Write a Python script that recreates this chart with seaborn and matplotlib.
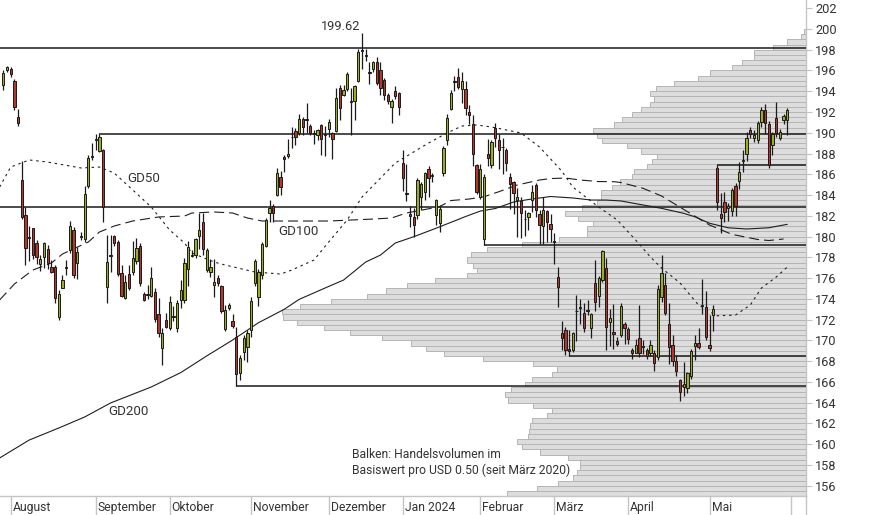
import numpy as np
import pandas as pd
import matplotlib
matplotlib.use("Agg")
import matplotlib.pyplot as plt
import matplotlib.transforms as mtransforms
import seaborn as sns

# ---------------- data ----------------
holidays = ["2023-09-04", "2023-11-23", "2023-12-25", "2024-01-01",
            "2024-01-15", "2024-02-19", "2024-03-29", "2024-05-27"]
first_day = "2023-07-28"
last_day = "2024-05-31"

opens = [194.6, 196.02, 196.14, 194.99, 191.52, 185.43, 182.08, 179.9, 180.8, 179.35,
         177.33, 178.0, 178.77, 177.1, 177.05, 172.28, 175.07, 177.0, 178.73, 180.63,
         177.42, 180.0, 179.74, 184.9, 187.7, 189.3, 188.24, 188.34, 175.19, 178.1,
         180.06, 179.45, 176.46, 174.05, 176.37, 176.56, 177.65, 179.12, 174.43, 174.4,
         174.3, 174.7, 172.5, 169.23, 171.96, 171.16, 172.3, 171.16, 173.89, 173.89,
         176.85, 178.15, 178.2, 180.05, 181.37, 176.78, 176.6, 175.3, 176.0, 175.2,
         171.06, 173.1, 171.86, 170.35, 166.83, 168.9, 169.4, 171.0, 175.5, 174.2,
         176.3, 179.1, 182.3, 182.9, 184.0, 185.7, 187.7, 187.76, 189.55, 190.17,
         189.95, 191.3, 191.25, 190.7, 189.95, 189.8, 190.73, 189.8, 190.36, 189.95,
         190.17, 194.28, 193.6, 194.2, 193.0, 193.06, 195.0, 197.9, 197.4, 195.8,
         196.1, 196.77, 196.0, 195.1, 193.6, 192.45, 194.0, 193.8, 187.05, 184.1,
         182.2, 181.9, 182.08, 183.85, 184.3, 186.5, 185.85, 182.08, 181.28, 186.1,
         189.3, 192.27, 194.9, 195.33, 194.2, 194.2, 191.96, 190.8, 186.9, 183.8,
         179.8, 188.0, 186.9, 190.5, 189.3, 188.6, 188.34, 185.7, 185.3, 183.5,
         183.45, 181.7, 181.9, 183.5, 185.0, 182.17, 181.0, 182.46, 181.2, 179.55,
         176.1, 170.74, 171.0, 169.2, 169.07, 172.8, 173.1, 172.66, 172.85, 171.16,
         175.5, 174.3, 175.8, 176.94, 171.8, 170.8, 169.9, 170.5, 171.6, 171.1,
         169.1, 168.8, 170.2, 169.4, 169.07, 168.75, 168.75, 168.37, 174.2, 175.35,
         171.6, 169.55, 168.0, 166.2, 165.55, 165.4, 166.6, 169.5, 169.77, 173.3,
         173.24, 169.55, 172.45, 186.56, 182.2, 183.35, 182.8, 182.46, 184.9, 185.35,
         187.25, 187.93, 190.3, 189.47, 189.3, 191.07, 192.2, 190.8, 188.8, 191.4,
         189.5, 191.2, 191.2]

highs = [196.05, 196.46, 196.36, 195.18, 192.29, 187.27, 182.88, 181.0, 180.86, 179.67,
         178.2, 179.5, 179.2, 177.7, 177.26, 174.85, 176.3, 177.74, 181.53, 180.96,
         179.0, 180.46, 184.87, 187.86, 188.98, 189.85, 189.88, 188.44, 180.15, 180.15,
         180.2, 179.7, 177.26, 176.3, 177.26, 179.6, 179.84, 179.35, 174.7, 175.3,
         177.1, 175.0, 174.1, 171.16, 172.6, 174.3, 173.3, 173.9, 175.8, 177.9,
         179.6, 178.7, 179.85, 182.3, 182.25, 178.9, 177.8, 177.8, 176.3, 175.3,
         173.4, 173.57, 172.5, 171.3, 168.6, 170.5, 171.0, 174.2, 177.8, 176.9,
         179.5, 181.8, 183.5, 183.1, 186.6, 186.3, 187.85, 189.4, 190.6, 190.5,
         191.8, 191.5, 192.85, 190.8, 190.27, 190.4, 190.8, 190.7, 191.3, 190.1,
         194.3, 194.6, 194.6, 195.9, 194.3, 194.6, 198.1, 199.62, 198.1, 196.8,
         196.9, 197.3, 196.8, 195.3, 193.8, 193.3, 194.5, 193.9, 188.3, 187.0,
         182.9, 182.8, 185.6, 185.3, 186.25, 186.8, 186.1, 183.65, 183.0, 188.7,
         191.8, 194.1, 195.5, 196.2, 195.9, 195.0, 192.7, 191.7, 187.0, 187.0,
         186.0, 189.4, 189.3, 190.9, 189.9, 189.5, 188.5, 186.1, 185.4, 184.7,
         183.85, 182.6, 182.4, 185.0, 185.2, 182.6, 183.85, 182.55, 182.17, 180.3,
         177.1, 171.86, 171.3, 171.0, 170.85, 174.4, 174.0, 173.6, 173.9, 172.66,
         177.7, 176.2, 178.7, 177.9, 173.0, 173.5, 170.3, 173.6, 171.8, 171.3,
         169.3, 170.1, 173.4, 170.0, 169.3, 170.0, 169.1, 175.35, 178.2, 176.46,
         173.6, 170.5, 168.6, 166.3, 167.9, 167.0, 169.2, 170.5, 171.2, 175.9,
         174.8, 172.4, 173.4, 186.87, 184.2, 184.3, 183.2, 184.7, 185.2, 187.2,
         188.3, 190.1, 190.6, 190.3, 191.1, 192.5, 192.8, 191.1, 190.1, 193.0,
         190.4, 191.8, 192.4]

lows = [194.12, 195.88, 195.4, 192.2, 190.68, 181.7, 177.26, 177.6, 177.84, 177.4,
        176.65, 176.96, 176.9, 176.45, 173.57, 171.96, 175.0, 176.3, 178.4, 175.98,
        175.9, 179.67, 179.5, 184.7, 187.37, 188.34, 188.17, 181.43, 173.57, 176.6,
        179.1, 176.2, 174.14, 173.95, 174.85, 176.3, 177.4, 175.2, 173.8, 174.0,
        174.2, 171.8, 170.3, 167.63, 171.2, 171.0, 171.9, 170.8, 173.1, 173.57,
        175.2, 178.0, 177.9, 178.8, 178.2, 176.6, 176.1, 174.2, 175.2, 172.6,
        170.9, 172.9, 171.16, 165.6, 166.2, 168.1, 167.95, 170.3, 175.2, 173.3,
        175.9, 179.0, 181.4, 181.4, 183.9, 184.0, 186.25, 187.6, 188.5, 188.8,
        189.8, 189.8, 189.95, 189.8, 188.9, 189.3, 187.9, 187.8, 189.6, 187.5,
        190.1, 191.2, 193.5, 194.0, 189.8, 191.2, 194.9, 196.1, 196.9, 194.7,
        195.9, 194.6, 193.6, 193.2, 192.8, 190.9, 193.3, 191.7, 184.4, 183.4,
        180.95, 180.0, 181.7, 182.6, 183.5, 183.8, 185.3, 181.1, 180.4, 185.8,
        188.85, 192.2, 194.0, 194.2, 192.9, 191.7, 190.8, 186.8, 184.1, 183.6,
        179.16, 186.8, 186.6, 188.6, 186.5, 186.0, 186.3, 182.7, 182.2, 180.0,
        179.9, 180.05, 180.6, 182.35, 181.9, 179.3, 179.3, 179.5, 179.5, 177.4,
        173.2, 169.1, 168.6, 168.46, 168.9, 169.9, 171.56, 170.85, 172.4, 170.2,
        172.8, 173.2, 175.6, 169.04, 169.5, 169.2, 169.5, 170.3, 169.7, 169.7,
        168.2, 168.8, 168.4, 168.7, 168.2, 168.5, 167.05, 168.1, 173.7, 172.4,
        167.7, 167.5, 166.6, 164.15, 164.6, 164.9, 166.3, 168.1, 169.2, 172.5,
        170.0, 169.0, 170.9, 182.6, 180.3, 181.4, 181.5, 181.95, 182.0, 184.6,
        186.2, 187.3, 189.5, 189.1, 188.97, 190.6, 189.9, 186.6, 187.9, 189.6,
        189.3, 190.8, 189.8]

closes = [195.73, 196.31, 195.63, 192.51, 190.97, 181.9, 178.87, 179.85, 178.2, 178.0,
          177.84, 179.35, 177.42, 176.56, 174.05, 174.43, 175.8, 177.1, 180.98, 176.29,
          178.48, 180.1, 184.08, 187.54, 187.8, 189.4, 189.62, 182.88, 177.54, 178.2,
          179.35, 176.37, 174.3, 175.65, 175.0, 177.9, 178.93, 175.5, 173.89, 174.45,
          176.0, 172.03, 170.68, 170.68, 171.26, 173.73, 172.37, 173.57, 174.85, 177.42,
          179.0, 178.2, 179.74, 180.63, 178.77, 178.7, 177.05, 175.6, 175.5, 172.85,
          172.9, 173.4, 171.35, 166.8, 168.27, 170.2, 170.68, 173.8, 177.67, 176.55,
          179.3, 181.6, 182.77, 182.3, 186.15, 184.8, 187.45, 188.0, 189.6, 189.6,
          191.3, 190.6, 191.3, 189.95, 189.85, 190.3, 189.37, 189.9, 191.0, 189.4,
          193.38, 192.36, 194.1, 195.63, 193.06, 194.5, 197.8, 198.0, 197.5, 195.9,
          196.8, 194.76, 194.3, 193.6, 193.06, 193.06, 193.5, 192.5, 185.6, 184.17,
          181.95, 181.1, 185.45, 185.05, 186.1, 185.6, 185.9, 183.5, 182.7, 188.5,
          191.4, 193.8, 195.0, 194.4, 195.0, 192.36, 191.7, 188.0, 184.3, 186.5,
          185.75, 187.6, 189.1, 189.5, 188.34, 188.65, 187.1, 185.05, 184.17, 183.84,
          182.3, 181.66, 182.24, 184.3, 182.55, 181.1, 182.55, 181.4, 180.75, 179.5,
          175.1, 170.2, 169.07, 169.0, 170.68, 172.83, 173.15, 171.16, 172.9, 172.5,
          173.7, 176.0, 178.6, 171.3, 172.2, 170.6, 169.7, 173.3, 171.2, 170.1,
          168.8, 169.6, 168.8, 169.44, 168.5, 169.6, 167.8, 174.93, 176.46, 172.6,
          169.4, 168.0, 167.05, 165.05, 165.8, 166.83, 169.0, 169.77, 169.35, 173.4,
          170.35, 169.3, 173.0, 183.35, 181.75, 182.4, 182.9, 184.5, 182.9, 186.2,
          187.35, 189.52, 189.85, 189.8, 190.9, 192.2, 190.9, 186.9, 189.85, 189.95,
          190.1, 191.6, 192.2]

# moving averages: (trading-day index, value)
gd50_idx = [-1, 2, 7, 12, 21, 26, 30, 35, 40, 45, 49, 51, 57, 60, 68, 75, 78, 84, 88,
            93, 97, 106, 115, 120, 124, 128, 132, 140, 145, 151, 154, 161, 166, 171,
            175, 178, 183, 188, 193, 198, 202, 205, 209, 212]
gd50_val = [184.77, 186.70, 187.38, 187.18, 186.61, 186.70, 186.12, 184.49, 182.85,
            180.63, 179.38, 178.42, 177.55, 177.26, 176.59, 176.39, 176.78, 177.74,
            179.48, 181.60, 183.81, 187.09, 189.01, 189.98, 190.65, 190.75, 190.56,
            189.98, 188.63, 186.32, 184.77, 182.85, 181.60, 179.67, 178.03, 176.97,
            175.53, 173.41, 172.37, 172.44, 173.41, 175.04, 176.10, 177.07]

gd100_idx = [-1, 3, 8, 13, 16, 23, 26, 30, 35, 42, 49, 51, 57, 62, 66, 70, 88, 100,
             105, 109, 118, 121, 126, 130, 134, 139, 145, 148, 152, 156, 161, 165,
             167, 173, 178, 185, 191, 197, 204, 207, 211]
gd100_val = [173.89, 175.43, 176.78, 177.45, 178.32, 179.48, 180.44, 181.02, 181.50,
             181.89, 181.98, 182.27, 182.37, 182.27, 181.79, 181.50, 181.50, 181.69,
             181.79, 182.27, 182.88, 183.47, 183.62, 183.84, 184.32, 184.97, 185.45,
             185.59, 185.64, 185.45, 185.30, 185.29, 185.21, 184.65, 183.91, 182.40,
             181.11, 180.22, 179.72, 179.62, 179.77]

gd200_idx = [-1, 7, 15, 22, 29, 40, 48, 55, 62, 69, 76, 80, 88, 92, 98, 102, 106, 111,
             117, 125, 129, 133, 138, 142, 148, 154, 159, 163, 167, 172, 178, 184,
             187, 191, 196, 201, 207, 212]
gd200_val = [158.67, 160.40, 161.56, 162.62, 163.97, 165.51, 166.90, 168.50, 170.03,
             171.70, 173.00, 173.95, 175.20, 175.81, 177.55, 178.22, 179.38, 179.99,
             180.80, 181.93, 182.46, 182.70, 183.33, 183.57, 183.86, 183.72, 183.52,
             183.52, 183.43, 183.11, 182.72, 182.24, 181.91, 181.28, 180.85, 180.73,
             180.85, 181.18]

# support / resistance lines: price level and start candle (-1 = from left edge)
sr_levels = [198.14, 189.85, 182.82, 186.87, 179.16, 168.46, 165.60]
sr_start = [-1, 26, -1, 193, 130, 153, 63]

# volume profile per USD 0.50 bin (relative volume), from 155.0 upward
vol_profile = [299, 269, 247.7, 233, 228.7, 225.7, 225.7, 237.4, 265.7, 283.4,
               288.4, 277.4, 276.4, 275.7, 273.4, 258.4, 254, 272.4, 297.4, 300.4,
               294.7, 280.7, 274, 254, 248.4, 272.4, 322.4, 361.4, 379.7, 394.7,
               424, 455.7, 481.4, 508.4, 523, 524, 505.7, 474.7, 438.4, 419.7,
               398.4, 370.7, 338.4, 329, 332.4, 338.4, 334.7, 319, 283.7, 246.7,
               218.4, 218.4, 213, 227.4, 240.7, 223.4, 208.4, 204.7, 204.7, 193.4,
               185.7, 174, 171.7, 159, 153.4, 148.4, 164.7, 178.4, 203.4, 208.4,
               212.4, 191.7, 183.4, 173.7, 164.7, 155.7, 151.4, 155.7, 149.4, 131.4,
               107.4, 95.4, 74, 64, 51.4, 51.4, 32.4, 18.4, 4.7, 1.4]
vol_bin_start = 155.0
vol_bin_size = 0.5

month_labels = ["August", "September", "Oktober", "November", "Dezember",
                "Jan 2024", "Februar", "März", "April", "Mai"]
y_ticks = list(range(156, 203, 2))
high_label = "199.62"
note_text = "Balken: Handelsvolumen im\nBasiswert pro USD 0.50 (seit März 2020)"

# ---------------- build ----------------
dates = pd.bdate_range(first_day, last_day, freq="C", holidays=holidays)
n = len(dates)
df = pd.DataFrame({"date": dates, "open": opens[:n], "high": highs[:n],
                   "low": lows[:n], "close": closes[:n]})
df["i"] = np.arange(n)
per = df["date"].dt.to_period("M")
month_start = df.groupby(per)["i"].min().tolist()[1:]   # Aug .. May
month_start.append(n)                                     # June boundary

sns.set_theme(style="white")
plt.rcParams["font.family"] = ["Roboto", "DejaVu Sans"]
TXT = "#333333"
GRID = "#c4c4c4"

fig = plt.figure(figsize=(8.74, 5.15), dpi=100)
fig.patch.set_facecolor("white")
ax = fig.add_axes([0.0, 0.0375, 0.92185, 0.9625])
ax2 = ax.twiny()
ax.set_zorder(2)
ax2.set_zorder(1)
ax.patch.set_visible(False)

xmin, xmax = -0.89, 216.98
ymin, ymax = 155.04, 202.79

# volume profile
bins = vol_bin_start + vol_bin_size * np.arange(len(vol_profile))
ax2.barh(bins, vol_profile, height=vol_bin_size, align="edge",
         color="#dddddd", edgecolor="#b5b5b5", linewidth=0.7)
ax2.set_xlim(805.7, 0)
ax2.xaxis.set_visible(False)
for s in ax2.spines.values():
    s.set_visible(False)

# moving averages
ma = [(gd50_idx, gd50_val, (0, (2.2, 3.4))),
      (gd100_idx, gd100_val, (0, (9, 4.5))),
      (gd200_idx, gd200_val, "-")]
for xi, yv, ls in ma:
    sns.lineplot(x=xi, y=yv, ax=ax, color="#1e1e1e", linewidth=0.8,
                 linestyle=ls, zorder=3, estimator=None, sort=False)

# support / resistance
for lev, st in zip(sr_levels, sr_start):
    x0 = xmin if st < 0 else st
    ax.hlines(lev, x0, xmax, color="#1a1a1a", linewidth=1.1, zorder=3.5)

# candles
o = df["open"].to_numpy(); c = df["close"].to_numpy()
h = df["high"].to_numpy(); l = df["low"].to_numpy()
up = c >= o
ax.vlines(df["i"], l, h, color="#1a1a1a", linewidth=0.9, zorder=4)
bottom = np.minimum(o, c)
height = np.maximum(np.abs(c - o), 0.07)
ax.bar(df["i"], height, bottom=bottom, width=0.62,
       color=np.where(up, "#9cae1e", "#b5372b"),
       edgecolor="#1a1a1a", linewidth=0.7, zorder=5)

ax.set_xlim(xmin, xmax)
ax.set_ylim(ymin, ymax)
ax.set_xlabel(""); ax.set_ylabel("")
ax.set_xticks([])
ax.yaxis.tick_right()
ax.set_yticks(y_ticks)
ax.set_yticklabels([str(t) for t in y_ticks])
ax.tick_params(axis="y", direction="out", length=4, width=0.8, color=GRID,
               labelcolor=TXT, labelsize=9.2, pad=3, right=True, left=False)
for k in ["top", "left"]:
    ax.spines[k].set_visible(False)
for k in ["right", "bottom"]:
    ax.spines[k].set_visible(True)
    ax.spines[k].set_color(GRID)
    ax.spines[k].set_linewidth(1.0)

# right spine continues through the label strip
ax.plot([1, 1], [0, -0.05], transform=ax.transAxes, color=GRID, lw=1.0,
        clip_on=False)
# month separators and labels
blend = mtransforms.blended_transform_factory(ax.transData, ax.transAxes)
lab_tr = mtransforms.offset_copy(blend, fig=fig, x=2, y=0, units="dots")
for k, ms in enumerate(month_start):
    ax.plot([ms, ms], [0, -0.05], transform=blend, color=GRID, lw=1.0,
            clip_on=False)
    if k < len(month_labels):
        ax.text(ms, -0.0235, month_labels[k], transform=lab_tr, ha="left",
                va="center", fontsize=8.7, color=TXT)

# labels
ax.text(96.5, 200.24, high_label, ha="right", va="center", fontsize=9.2, color=TXT)
ax.text(38.0, 185.57, "GD50", ha="center", va="center", fontsize=9.6, color=TXT, zorder=6)
ax.text(79.8, 180.49, "GD100", ha="center", va="center", fontsize=9.6, color=TXT, zorder=6)
ax.text(33.9, 163.15, "GD200", ha="center", va="center", fontsize=9.6, color=TXT, zorder=6)
ax.text(94.3, 159.6, note_text, ha="left", va="top", fontsize=8.7, color=TXT,
        linespacing=1.25, zorder=6)

fig.savefig("out.png", dpi=100, facecolor="white")
